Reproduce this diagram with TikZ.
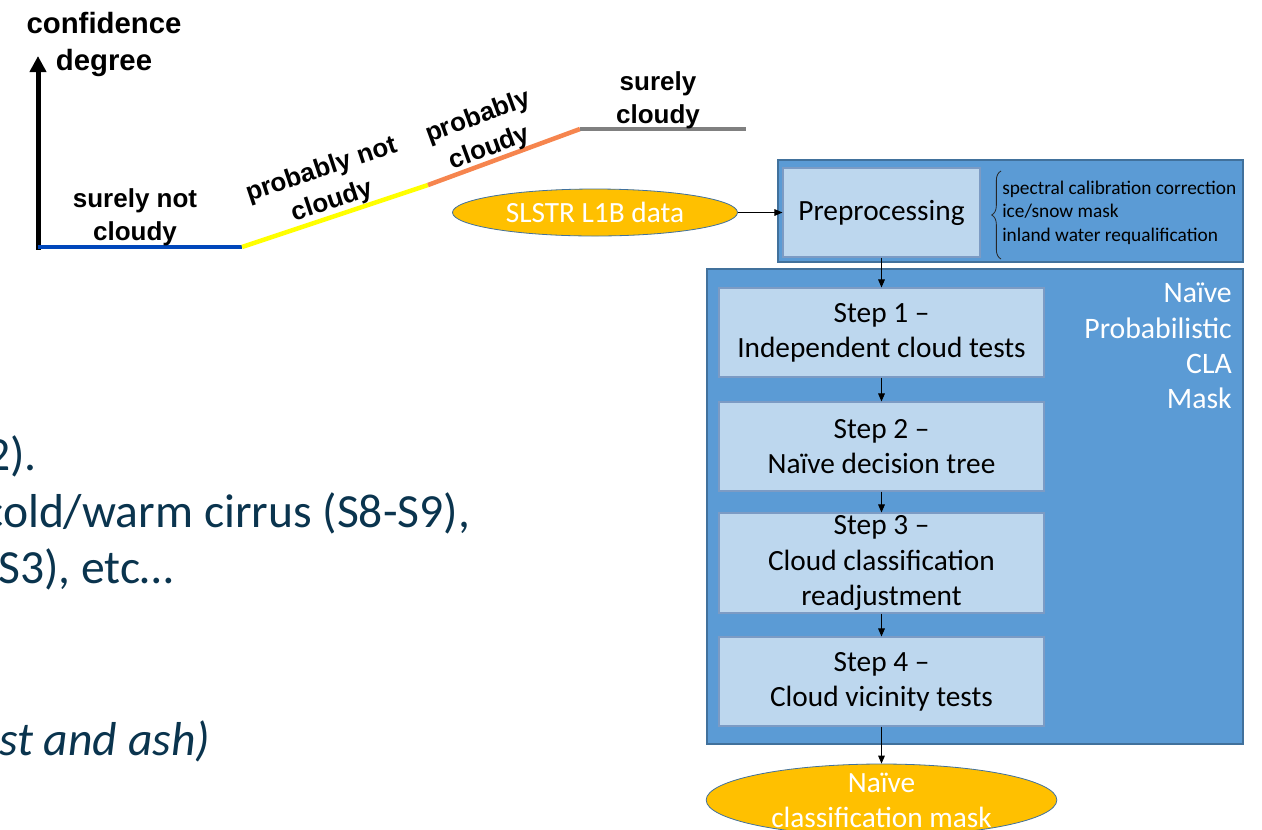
\documentclass[tikz,border=0pt]{standalone}
\usepackage{fontspec}
\setmainfont{Carlito}
\newfontfamily\headfont{Liberation Sans}
\usetikzlibrary{arrows.meta,shapes.geometric,decorations.pathreplacing}

\definecolor{lowblue}{RGB}{0,71,187}
\definecolor{midyellow}{RGB}{255,255,0}
\definecolor{highorange}{RGB}{246,133,78}
\definecolor{topgray}{RGB}{128,128,128}
\definecolor{panel}{RGB}{91,155,213}
\definecolor{panelline}{RGB}{65,113,156}
\definecolor{stepfill}{RGB}{189,215,238}
\definecolor{stepline}{RGB}{124,155,196}
\definecolor{datafill}{RGB}{255,192,0}
\definecolor{slidetext}{RGB}{10,52,78}

\begin{document}
\begin{tikzpicture}[x=0.75pt, y=-0.75pt,
  level/.style={line width=3.4pt},
  tag/.style={font=\headfont\bfseries\fontsize{19.5}{25}\selectfont, align=center, inner sep=0pt},
  stepbox/.style={draw=stepline, fill=stepfill, line width=0.8pt, minimum width=243.75pt,
    minimum height=66.75pt, align=center, inner sep=0pt, font=\fontsize{22}{26.4}\selectfont},
  data/.style={ellipse, draw=panelline, fill=datafill, line width=0.6pt, inner sep=0pt},
  datatext/.style={text=white, align=center, inner sep=0pt, font=\fontsize{22}{26.25}\selectfont},
  flow/.style={-{Triangle[length=6pt,width=5pt]}, line width=0.75pt},
  slide/.style={anchor=base west, inner sep=0pt, text=slidetext, font=\fontsize{35.7}{42}\selectfont}]

  \useasboundingbox (0,0) rectangle (1262,829);
  \clip (0,0) rectangle (1262,829);

  \coordinate (foot) at (38,249.5);
  \coordinate (top)  at (38,56);
  \coordinate (o) at (38,247);
  \coordinate (a) at (242,247);
  \coordinate (b) at (428,185);
  \coordinate (c) at (580,129);
  \coordinate (d) at (746,129);

  \draw [-{Triangle[length=12pt,width=12pt]}, line width=3.75pt] (foot) -- (top);
  \draw [level, lowblue]    (o) -- (a);
  \draw [level, midyellow]  (a) -- (b);
  \draw [level, highorange] (b) -- (c);
  \draw [level, topgray]    (c) -- (d);

  \node [tag, font=\headfont\bfseries\fontsize{22}{27.75}\selectfont] (conf) at (104,44.5) {confidence\\degree};
  \node [tag] (snc) at (135,217) {surely not\\cloudy};
  \node [tag, rotate=18.4] (pnc) at (327,186) {probably not\\cloudy};
  \node [tag, rotate=20.2] (pc) at (484,133) {probably\\cloudy};
  \node [tag] (sc) at (658,100) {surely\\cloudy};

  \draw [panelline, fill=panel, line width=1pt] (778,160) rectangle (1243,262);
  \draw [panelline, fill=panel, line width=1pt] (707,269) rectangle (1243,744);

  \node [stepbox, minimum width=147.75pt] (prep) at (881.5,212.5) {Preprocessing};
  \node [stepbox] (s1) at (881.5,332.5) {Step 1 --\\Independent cloud tests};
  \node [stepbox] (s2) at (881.5,446.5) {Step 2 --\\Naïve decision tree};
  \node [stepbox, minimum height=75pt] (s3) at (881.5,563) {Step 3 --\\Cloud classification\\readjustment};
  \node [stepbox] (s4) at (881.5,681.5) {Step 4 --\\Cloud vicinity tests};

  \node [anchor=east, align=right, text=white, inner sep=0pt, font=\fontsize{22.3}{26.5}\selectfont]
    (cla) at (1232,346) {Naïve\\Probabilistic\\CLA\\Mask};

  \draw [decorate, decoration={brace, amplitude=7pt}, line width=0.6pt, black!85]
    (1001,259) -- (1001,171);
  \node [anchor=west, align=left, inner sep=0pt, font=\fontsize{14.5}{17.6}\selectfont]
    (fixes) at (1002,212.5) {spectral calibration correction\\ice/snow mask\\inland water requalification};

  \node [data, minimum width=213.75pt, minimum height=35.25pt] (l1b) at (595,212.5) {};
  \node [datatext] at (l1b) {SLSTR L1B data};
  \node [data, minimum width=263pt, minimum height=54pt] (mask) at (881.5,800) {};
  \node [datatext] at (mask) {Naïve\\classification mask};

  \draw [flow] (l1b) -- (prep);
  \draw [flow] (prep) -- (s1);
  \draw [flow] (s1) -- (s2);
  \draw [flow] (s2) -- (s3);
  \draw [flow] (s3) -- (s4);
  \draw [flow] (s4) -- (mask);

  \node [slide] (t1) at (-14,470) {2).};
  \node [slide] (t2) at (-17,527) {cold/warm cirrus (S8-S9),};
  \node [slide] (t3) at (-2,583) {S3), etc…};
  \node [slide, font=\itshape\fontsize{35.7}{42}\selectfont] (t4) at (-1,755) {st and ash)};
\end{tikzpicture}
\end{document}
